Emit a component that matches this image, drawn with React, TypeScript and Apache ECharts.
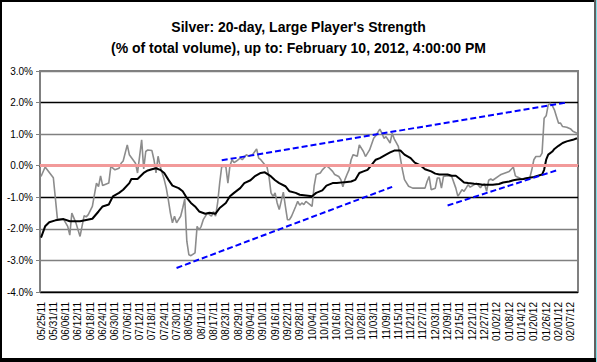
import React, { useEffect, useRef } from "react";
import * as echarts from "echarts";

const TITLE_LINE_1 = "Silver: 20-day, Large Player's Strength";
const TITLE_LINE_2 = "(% of total volume), up to: February 10, 2012, 4:00:00 PM";

// Calendar days on the date axis, starting 05/25/11
const START_YEAR = 2011;
const START_MONTH = 4; // May (0-based)
const START_DAY = 25;
const DAY_COUNT = 262; // through 02/10/12
const LABEL_EVERY = 6;

const Y_MIN = -4;
const Y_MAX = 3;
const Y_STEP = 1;

// [day offset from 05/25/11, % of total volume]
const STRENGTH_DAILY: [number, number][] = [
  [0,-0.34],[2,-0.04],[6,-0.38],[8,-1.70],[11,-1.70],[13,-1.92],[14,-2.20],[15,-1.50],[17,-1.81],[19,-2.24],
  [21,-1.58],[22,-1.62],[23,-1.55],[25,-1.29],[27,-0.55],[28,-0.66],[29,-0.32],[30,-0.63],[33,-0.55],[34,-0.02],
  [36,-0.13],[38,-0.08],[39,0.08],[40,0.15],[42,0.66],[43,0.35],[46,0.08],[47,-0.23],[49,0.82],[50,-0.10],
  [51,0.45],[52,0.50],[54,0.48],[55,0.19],[56,-0.23],[57,0.30],[58,-0.02],[60,-0.44],[61,-0.71],[62,-1.08],
  [63,-1.50],[64,-1.81],[65,-1.60],[66,-1.81],[68,-1.60],[69,-1.34],[70,-1.05],[71,-2.39],[72,-2.82],[73,-2.85],
  [75,-2.76],[76,-1.92],[77,-2.03],[78,-1.92],[79,-1.71],[81,-1.50],[83,-1.60],[84,-1.45],[85,-1.60],[86,-1.18],
  [87,-0.55],[88,-0.02],[90,-0.02],[91,-0.55],[92,0.00],[93,0.19],[94,0.10],[95,0.14],[97,0.24],[98,0.19],
  [100,0.35],[101,0.30],[103,0.35],[105,0.53],[106,0.24],[107,0.19],[109,0.03],[110,-0.02],[111,-0.34],[112,-0.86],
  [113,-0.97],[114,-0.86],[115,-1.18],[116,-1.39],[118,-0.84],[119,-1.29],[120,-1.71],[121,-1.71],[122,-1.60],[124,-1.29],
  [125,-1.13],[126,-1.25],[127,-1.18],[128,-1.23],[129,-1.13],[131,-1.23],[132,-1.29],[133,-0.65],[134,-0.28],[136,-0.23],
  [137,-0.13],[139,0.00],[140,-0.05],[142,-0.18],[143,-0.28],[145,-0.34],[146,-0.44],[147,-0.67],[148,-0.44],[149,-0.28],
  [150,-0.13],[151,0.19],[152,0.35],[154,0.30],[155,0.66],[157,0.45],[158,0.29],[160,0.50],[162,0.87],[163,0.95],
  [165,1.16],[166,1.03],[167,0.87],[168,0.92],[170,0.72],[171,1.03],[172,0.85],[174,0.61],[176,-0.13],[177,-0.44],
  [179,-0.65],[181,-0.71],[185,-0.71],[187,-0.71],[188,-0.50],[189,-0.34],[190,-0.76],[192,-0.71],[193,-0.39],[194,-0.39],
  [195,-0.71],[196,-0.34],[198,-0.32],[200,-0.34],[202,-0.71],[203,-0.97],[205,-0.76],[206,-0.81],[207,-0.71],[208,-0.60],
  [209,-0.68],[211,-0.60],[212,-0.55],[214,-0.70],[215,-0.60],[216,-0.58],[217,-0.81],[218,-0.46],[219,-0.42],[220,-0.46],
  [223,-0.32],[224,-0.28],[226,-0.23],[228,-0.18],[229,-0.11],[230,-0.04],[231,-0.32],[232,-0.36],[234,-0.42],[237,-0.38],
  [238,-0.39],[239,-0.13],[240,0.19],[241,0.29],[243,0.29],[244,0.40],[245,1.50],[246,1.58],[247,1.93],[248,1.98],
  [249,1.90],[250,1.77],[251,1.56],[252,1.35],[253,1.35],[254,1.24],[256,1.22],[258,1.16],[259,1.09],[261,1.03],
];

const STRENGTH_20DAY: [number, number][] = [
  [0,-2.28],[2,-1.92],[4,-1.79],[7,-1.73],[11,-1.69],[14,-1.76],[19,-1.76],[25,-1.68],[28,-1.45],[30,-1.29],
  [33,-1.23],[35,-0.97],[38,-0.86],[40,-0.76],[43,-0.55],[44,-0.42],[47,-0.42],[50,-0.23],[52,-0.15],[54,-0.11],
  [56,-0.08],[58,-0.13],[60,-0.23],[62,-0.44],[64,-0.63],[67,-0.71],[69,-0.81],[71,-1.02],[73,-1.18],[75,-1.29],
  [77,-1.45],[80,-1.52],[82,-1.49],[85,-1.52],[87,-1.34],[90,-1.18],[92,-0.97],[94,-0.86],[97,-0.71],[99,-0.55],
  [102,-0.46],[104,-0.34],[107,-0.23],[109,-0.21],[112,-0.34],[114,-0.46],[116,-0.55],[119,-0.65],[121,-0.81],[124,-0.86],
  [126,-0.92],[129,-0.94],[132,-0.97],[134,-0.86],[137,-0.78],[139,-0.63],[142,-0.55],[144,-0.55],[148,-0.52],[151,-0.50],
  [153,-0.45],[155,-0.23],[157,-0.18],[159,-0.13],[161,0.03],[163,0.19],[165,0.24],[168,0.35],[170,0.42],[172,0.48],
  [175,0.48],[177,0.35],[180,0.24],[182,0.10],[185,0.00],[187,-0.11],[190,-0.18],[192,-0.25],[194,-0.28],[198,-0.28],
  [200,-0.32],[202,-0.32],[204,-0.42],[206,-0.53],[208,-0.55],[211,-0.57],[213,-0.58],[215,-0.60],[220,-0.60],[223,-0.58],
  [225,-0.53],[228,-0.50],[230,-0.46],[232,-0.44],[235,-0.42],[237,-0.39],[240,-0.36],[242,-0.32],[244,-0.28],[245,-0.13],
  [246,0.19],[247,0.35],[249,0.45],[250,0.53],[252,0.63],[254,0.72],[256,0.77],[259,0.82],[261,0.87],
];

const TREND_UPPER: [number, number][] = [[88, 0.17], [256, 2.0]];
const TREND_MIDDLE: [number, number][] = [[66, -3.24], [171, -0.67]];
const TREND_LOWER: [number, number][] = [[198, -1.26], [251, -0.15]];

const pad = (n: number) => (n < 10 ? "0" + n : String(n));
const CATEGORIES: string[] = Array.from({ length: DAY_COUNT }, (_, i) => {
  const d = new Date(START_YEAR, START_MONTH, START_DAY + i);
  return `${pad(d.getMonth() + 1)}/${pad(d.getDate())}/${pad(d.getFullYear() % 100)}`;
});

const FONT = "'Liberation Sans', Arial, sans-serif";

export default function App() {
  const ref = useRef<HTMLDivElement>(null);
  useEffect(() => {
    document.body.style.margin = "0";
    if (!ref.current) return;
    const chart = echarts.init(ref.current, undefined, { renderer: "svg" });
    const trend = (data: [number, number][]) => ({
      type: "line",
      data,
      symbol: "none",
      z: 5,
      lineStyle: { color: "#0000ff", width: 2, type: [6, 3] },
      silent: true,
    });
    chart.setOption({
      animation: false,
      backgroundColor: "#ffffff",
      title: [
        {
          text: TITLE_LINE_1 + "\n" + TITLE_LINE_2,
          left: "center",
          top: 11,
          textStyle: { fontFamily: FONT, fontSize: 14, fontWeight: "bold", color: "#000", lineHeight: 21 },
        },
      ],
      grid: {
        left: 40,
        right: 19,
        top: 71,
        bottom: 70,
        show: true,
        borderColor: "#808080",
        borderWidth: 2,
        backgroundColor: "transparent",
      },
      xAxis: {
        type: "category",
        data: CATEGORIES,
        boundaryGap: true,
        axisLine: { show: true, lineStyle: { color: "#000", width: 1.5 } },
        axisTick: { show: false },
        axisLabel: {
          interval: LABEL_EVERY - 1,
          rotate: 90,
          fontFamily: FONT,
          fontSize: 10,
          color: "#000",
          margin: 10,
        },
        splitLine: { show: false },
      },
      yAxis: {
        type: "value",
        min: Y_MIN,
        max: Y_MAX,
        interval: Y_STEP,
        axisLine: { show: true, lineStyle: { color: "#808080", width: 1.5 } },
        axisTick: { show: true, length: 4, lineStyle: { color: "#808080" } },
        axisLabel: {
          fontFamily: FONT,
          fontSize: 10,
          color: "#000",
          margin: 7,
          formatter: (v: number) => v.toFixed(1) + "%",
        },
        splitLine: {
          show: true,
          lineStyle: {
            width: 1.3,
            color: ["#000000", "#808080", "#808080", "#000000", "rgba(0,0,0,0)", "#808080", "#000000", "#808080"],
          },
        },
      },
      series: [
        {
          type: "line",
          data: [],
          z: 1,
          markLine: {
            silent: true,
            symbol: "none",
            label: { show: false },
            lineStyle: { color: "#f29a9a", width: 3, type: "solid" },
            data: [{ yAxis: 0 }],
          },
        },
        {
          type: "line",
          data: STRENGTH_DAILY,
          symbol: "none",
          z: 3,
          lineStyle: { color: "#8c8c8c", width: 1.6 },
          silent: true,
        },
        {
          type: "line",
          data: STRENGTH_20DAY,
          symbol: "none",
          z: 4,
          lineStyle: { color: "#000000", width: 2 },
          silent: true,
        },
        trend(TREND_UPPER),
        trend(TREND_MIDDLE),
        trend(TREND_LOWER),
      ],
      graphic: [
        { type: "rect", shape: { x: 0, y: 0, width: 597, height: 2 }, style: { fill: "#000" }, silent: true },
        { type: "rect", shape: { x: 0, y: 0, width: 2, height: 362 }, style: { fill: "#000" }, silent: true },
        { type: "rect", shape: { x: 0, y: 358, width: 597, height: 4 }, style: { fill: "#000" }, silent: true },
        { type: "rect", shape: { x: 594, y: 0, width: 2, height: 358 }, style: { fill: "#606060" }, silent: true },
        { type: "rect", shape: { x: 596, y: 0, width: 1, height: 362 }, style: { fill: "#7fe0e8" }, silent: true },
      ],
    });
    return () => chart.dispose();
  }, []);
  return <div ref={ref} style={{ position: "fixed", left: 0, top: 0, width: 597, height: 362 }} />;
}
